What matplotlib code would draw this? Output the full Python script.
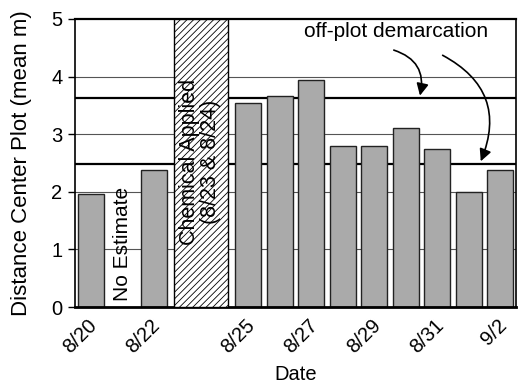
import matplotlib
matplotlib.use("Agg")
import matplotlib.pyplot as plt
import matplotlib.transforms as mtransforms
import numpy as np

plt.rcParams.update({
    "font.family": ["Liberation Sans", "DejaVu Sans"],
    "font.size": 14.5,
    "hatch.linewidth": 0.6,
})

dates = ["8/20", "8/21", "8/22", "8/23", "8/24", "8/25", "8/26",
         "8/27", "8/28", "8/29", "8/30", "8/31", "9/1", "9/2"]
distance = [1.96, np.nan, 2.37, np.nan, np.nan, 3.55, 3.66,
            3.94, 2.80, 2.80, 3.11, 2.75, 2.00, 2.37]
shown_ticks = ["8/20", "8/22", "8/25", "8/27", "8/29", "8/31", "9/2"]
demarcation = [3.63, 2.49]
chem_days = ["8/23", "8/24"]
no_est_day = "8/21"

x = np.arange(len(dates))
vals = np.array(distance)

fig = plt.figure(figsize=(5.18, 3.83), dpi=100)
ax = fig.add_axes([0.1448, 0.1984, 0.8514, 0.752])

ax.set_ylim(0, 5)
ax.set_xlim(-0.5, len(dates) - 0.5)

# grid
for g in [1, 2, 3, 4]:
    ax.axhline(g, color="#555555", lw=0.8, zorder=0)
# off-plot demarcation lines
for d in demarcation:
    ax.axhline(d, color="black", lw=1.6, zorder=1)

ok = ~np.isnan(vals)
ax.bar(x[ok], vals[ok], width=0.83, color="#aaaaaa", edgecolor="#222222", lw=1.0, zorder=2)

# chemical applied hatched block
ci = [dates.index(d) for d in chem_days]
cx = np.mean(ci)
ax.bar(cx, 5, width=1.71, color="white", edgecolor="black", hatch="/////", lw=1.0, zorder=3)
ax.text(cx - 0.03, 2.52, "Chemical Applied\n(8/23 & 8/24)", rotation=90, ha="center", va="center",
        multialignment="center", zorder=4, linespacing=0.95, fontsize=15.5)

ax.text(dates.index(no_est_day), 0.1, "No Estimate", rotation=90, ha="center", va="bottom",
        zorder=4, fontsize=15)

ax.text(9.68, 4.78, "off-plot demarcation", ha="center", va="center", fontsize=15)
ax.annotate("", xy=(10.45, 3.67), xytext=(9.62, 4.46),
            arrowprops=dict(arrowstyle="-|>", color="black", lw=1.2, mutation_scale=18,
                            connectionstyle="arc3,rad=-0.45", shrinkA=0, shrinkB=0))
ax.annotate("", xy=(12.38, 2.53), xytext=(11.17, 4.37),
            arrowprops=dict(arrowstyle="-|>", color="black", lw=1.2, mutation_scale=18,
                            connectionstyle="arc3,rad=-0.45", shrinkA=0, shrinkB=0))

ax.set_yticks([0, 1, 2, 3, 4, 5])
ax.tick_params(axis="y", length=5, width=1.0, direction="out", pad=4)
ax.set_xticks([dates.index(t) for t in shown_ticks])
ax.set_xticklabels(shown_ticks, rotation=45, ha="right", va="top")
ax.tick_params(axis="x", length=0, pad=6)
off = mtransforms.ScaledTranslation(0.10, 0, fig.dpi_scale_trans)
for lab in ax.get_xticklabels():
    lab.set_transform(lab.get_transform() + off)

ax.set_ylabel("Distance Center Plot (mean m)", fontsize=16)
ax.yaxis.set_label_coords(-0.097, 0.5)
ax.set_xlabel("Date")
ax.xaxis.set_label_coords(0.5, -0.2)

for s in ["left", "right"]:
    ax.spines[s].set_linewidth(1.2)
ax.spines["top"].set_linewidth(1.6)
ax.spines["bottom"].set_linewidth(2.0)

fig.savefig("out.png", dpi=100)
